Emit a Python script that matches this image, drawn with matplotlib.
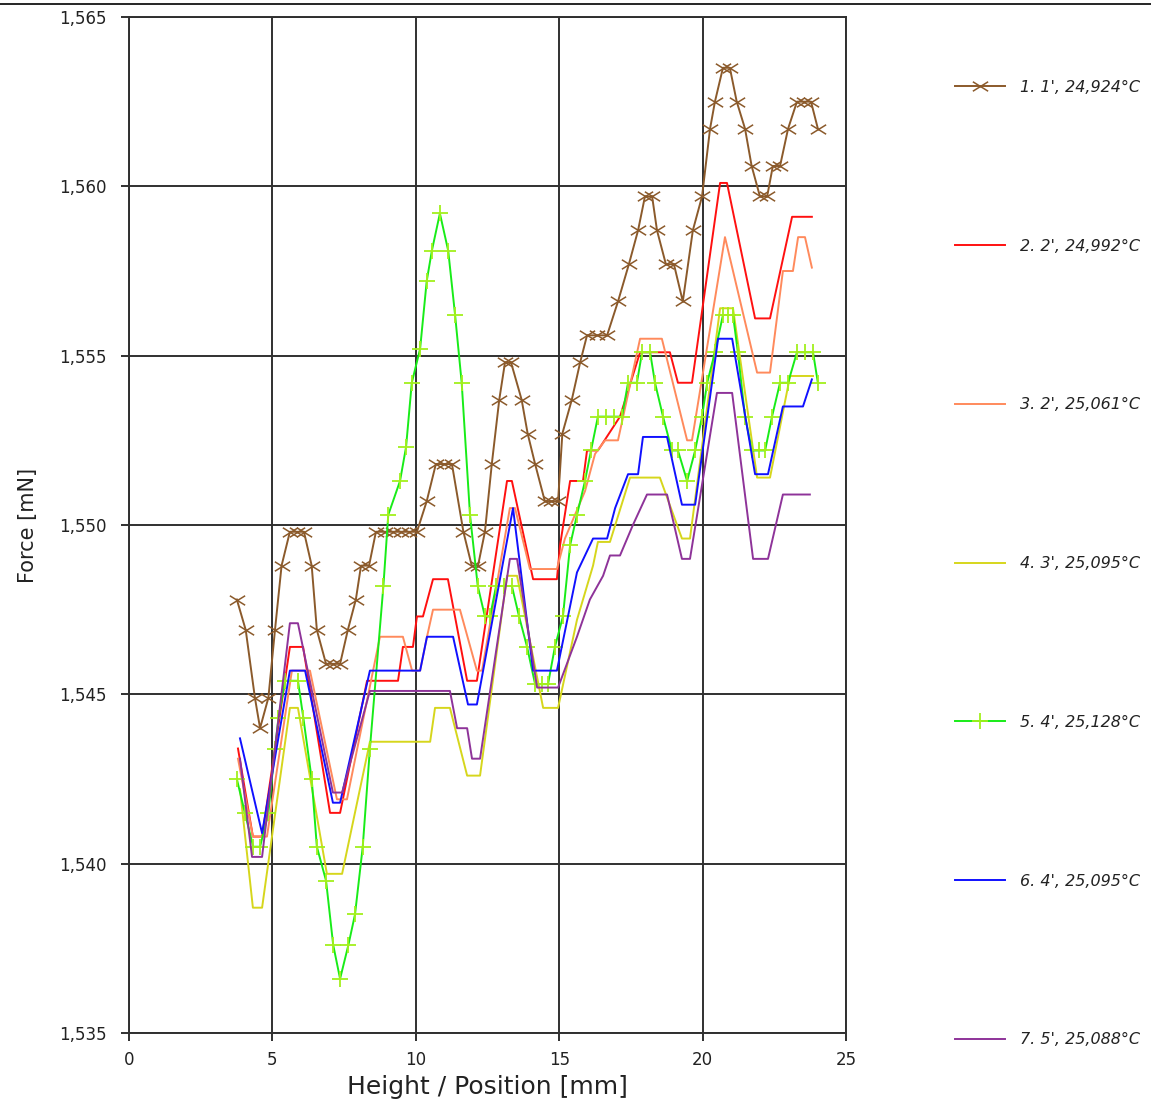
import matplotlib
matplotlib.use('Agg')
import matplotlib.pyplot as plt
from matplotlib.path import Path
from matplotlib.lines import Line2D
from matplotlib.ticker import FuncFormatter, MultipleLocator

# series 1: 1', 24,924°C (markers at every sample)
s1_pos = [3.76, 4.07, 4.39, 4.57, 4.86, 5.09, 5.32, 5.61, 5.86, 6.10, 6.37, 6.55, 6.87, 7.11,
          7.36, 7.63, 7.91, 8.09, 8.37, 8.61, 8.93, 9.21, 9.48, 9.76, 10.04, 10.38, 10.70, 10.98,
          11.26, 11.66, 11.95, 12.17, 12.41, 12.65, 12.91, 13.11, 13.32, 13.69, 13.90, 14.16, 14.50,
          14.71, 14.96, 15.11, 15.44, 15.73, 15.97, 16.32, 16.67, 17.05, 17.43, 17.75, 17.99, 18.24,
          18.41, 18.72, 19.00, 19.31, 19.66, 19.98, 20.26, 20.43, 20.71, 20.95, 21.19, 21.48, 21.71,
          22.00, 22.25, 22.45, 22.70, 22.98, 23.29, 23.53, 23.78, 24.02]
s1_force = [1.5478, 1.5469, 1.5449, 1.5440, 1.5449, 1.5469, 1.5488, 1.5498, 1.5498, 1.5498, 1.5488,
            1.5469, 1.5459, 1.5459, 1.5459, 1.5469, 1.5478, 1.5488, 1.5488, 1.5498, 1.5498, 1.5498,
            1.5498, 1.5498, 1.5498, 1.5507, 1.5518, 1.5518, 1.5518, 1.5498, 1.5488, 1.5488, 1.5498,
            1.5518, 1.5537, 1.5548, 1.5548, 1.5537, 1.5527, 1.5518, 1.5507, 1.5507, 1.5507, 1.5527,
            1.5537, 1.5548, 1.5556, 1.5556, 1.5556, 1.5566, 1.5577, 1.5587, 1.5597, 1.5597, 1.5587,
            1.5577, 1.5577, 1.5566, 1.5587, 1.5597, 1.5617, 1.5625, 1.5635, 1.5635, 1.5625, 1.5617,
            1.5606, 1.5597, 1.5597, 1.5606, 1.5606, 1.5617, 1.5625, 1.5625, 1.5625, 1.5617]

# series 2: 2', 24,992°C
s2_pos = [3.80, 4.32, 4.64, 5.61, 6.07, 7.01, 7.36, 8.30, 9.38, 9.55, 9.90, 10.04, 10.25, 10.60,
          11.12, 11.79, 12.13, 13.18, 13.35, 14.09, 14.92, 15.03, 15.38, 15.83, 15.97, 16.35, 17.12,
          17.82, 18.86, 19.14, 19.63, 20.61, 20.85, 21.83, 22.35, 23.12, 23.81]
s2_force = [1.5434, 1.5408, 1.5408, 1.5464, 1.5464, 1.5415, 1.5415, 1.5454, 1.5454, 1.5464, 1.5464,
            1.5473, 1.5473, 1.5484, 1.5484, 1.5454, 1.5454, 1.5513, 1.5513, 1.5484, 1.5484, 1.5494,
            1.5513, 1.5513, 1.5522, 1.5522, 1.5532, 1.5551, 1.5551, 1.5542, 1.5542, 1.5601, 1.5601,
            1.5561, 1.5561, 1.5591, 1.5591]

# series 3: 2', 25,061°C
s3_pos = [3.80, 4.32, 4.81, 5.68, 6.31, 7.25, 7.60, 8.75, 9.55, 9.87, 10.15, 10.39, 10.60, 11.54,
          12.13, 12.31, 13.28, 13.46, 13.98, 14.92, 15.20, 15.90, 16.25, 16.60, 17.05, 17.82, 18.58,
          19.46, 19.63, 20.78, 21.90, 22.35, 22.80, 23.15, 23.33, 23.57, 23.81]
s3_force = [1.5431, 1.5408, 1.5408, 1.5457, 1.5457, 1.5419, 1.5419, 1.5467, 1.5467, 1.5457, 1.5457,
            1.5467, 1.5475, 1.5475, 1.5457, 1.5457, 1.5505, 1.5505, 1.5487, 1.5487, 1.5496, 1.5510,
            1.5521, 1.5525, 1.5525, 1.5555, 1.5555, 1.5525, 1.5525, 1.5585, 1.5545, 1.5545, 1.5575,
            1.5575, 1.5585, 1.5585, 1.5576]

# series 4: 3', 25,095°C
s4_pos = [3.87, 4.32, 4.64, 5.61, 5.89, 6.90, 7.43, 8.40, 10.50, 10.67, 11.19, 11.79, 12.24, 13.18,
          13.53, 14.44, 14.96, 15.62, 16.18, 16.35, 16.77, 17.47, 18.51, 19.28, 19.56, 20.61, 21.06,
          21.90, 22.35, 23.05, 23.85]
s4_force = [1.5422, 1.5387, 1.5387, 1.5446, 1.5446, 1.5397, 1.5397, 1.5436, 1.5436, 1.5446, 1.5446,
            1.5426, 1.5426, 1.5485, 1.5485, 1.5446, 1.5446, 1.5472, 1.5488, 1.5495, 1.5495, 1.5514,
            1.5514, 1.5496, 1.5496, 1.5564, 1.5564, 1.5514, 1.5514, 1.5544, 1.5544]

# series 5: 4', 25,128°C (markers at every sample)
s5_pos = [3.76, 4.04, 4.33, 4.57, 4.86, 5.09, 5.21, 5.44, 5.89, 6.08, 6.37, 6.55, 6.87, 7.12, 7.36,
          7.65, 7.88, 8.15, 8.40, 8.87, 9.04, 9.45, 9.66, 9.86, 10.15, 10.38, 10.56, 10.84, 11.13,
          11.37, 11.60, 11.89, 12.16, 12.41, 12.59, 12.80, 13.08, 13.35, 13.60, 13.88, 14.16, 14.40,
          14.61, 14.85, 15.13, 15.38, 15.62, 15.90, 16.11, 16.35, 16.63, 16.91, 17.19, 17.40, 17.71,
          17.89, 18.17, 18.34, 18.62, 18.93, 19.14, 19.46, 19.74, 19.98, 20.16, 20.43, 20.71, 20.89,
          21.06, 21.23, 21.48, 21.72, 21.97, 22.18, 22.42, 22.70, 22.98, 23.29, 23.57, 23.85, 24.02]
s5_force = [1.5425, 1.5415, 1.5405, 1.5405, 1.5415, 1.5434, 1.5443, 1.5454, 1.5454, 1.5443, 1.5425,
            1.5405, 1.5395, 1.5376, 1.5366, 1.5376, 1.5385, 1.5405, 1.5434, 1.5482, 1.5503, 1.5513,
            1.5523, 1.5542, 1.5552, 1.5572, 1.5581, 1.5592, 1.5581, 1.5562, 1.5542, 1.5503, 1.5482,
            1.5473, 1.5473, 1.5482, 1.5482, 1.5482, 1.5473, 1.5464, 1.5453, 1.5453, 1.5453, 1.5464,
            1.5473, 1.5494, 1.5503, 1.5513, 1.5522, 1.5532, 1.5532, 1.5532, 1.5532, 1.5542, 1.5542,
            1.5551, 1.5551, 1.5542, 1.5532, 1.5522, 1.5522, 1.5513, 1.5522, 1.5532, 1.5542, 1.5551,
            1.5562, 1.5562, 1.5562, 1.5551, 1.5532, 1.5522, 1.5522, 1.5522, 1.5532, 1.5542, 1.5542,
            1.5551, 1.5551, 1.5551, 1.5542]

# series 6: 4', 25,095°C
s6_pos = [3.87, 4.64, 5.61, 6.14, 7.11, 7.36, 8.40, 10.15, 10.39, 11.30, 11.82, 12.13, 13.39, 14.09,
          14.92, 15.62, 16.18, 16.67, 16.95, 17.40, 17.75, 17.92, 18.76, 19.28, 19.74, 20.54, 21.03,
          21.83, 22.28, 22.80, 23.50, 23.81]
s6_force = [1.5437, 1.5409, 1.5457, 1.5457, 1.5418, 1.5418, 1.5457, 1.5457, 1.5467, 1.5467, 1.5447,
            1.5447, 1.5505, 1.5457, 1.5457, 1.5486, 1.5496, 1.5496, 1.5505, 1.5515, 1.5515, 1.5526,
            1.5526, 1.5506, 1.5506, 1.5555, 1.5555, 1.5515, 1.5515, 1.5535, 1.5535, 1.5543]

# series 7: 5', 25,088°C
s7_pos = [3.87, 4.29, 4.64, 5.61, 5.89, 7.11, 7.43, 8.40, 11.19, 11.44, 11.79, 11.96, 12.24, 13.28,
          13.53, 14.23, 14.96, 15.62, 16.07, 16.53, 16.77, 17.12, 17.57, 18.06, 18.76, 19.28, 19.56,
          20.50, 21.03, 21.76, 22.28, 22.80, 23.74]
s7_force = [1.5431, 1.5402, 1.5402, 1.5471, 1.5471, 1.5421, 1.5421, 1.5451, 1.5451, 1.5440, 1.5440,
            1.5431, 1.5431, 1.5490, 1.5490, 1.5452, 1.5452, 1.5467, 1.5478, 1.5485, 1.5491, 1.5491,
            1.5500, 1.5509, 1.5509, 1.5490, 1.5490, 1.5539, 1.5539, 1.5490, 1.5490, 1.5509, 1.5509]

labels = ["1. 1', 24,924°C", "2. 2', 24,992°C", "3. 2', 25,061°C", "4. 3', 25,095°C",
          "5. 4', 25,128°C", "6. 4', 25,095°C", "7. 5', 25,088°C"]

# x with a horizontal bar through it (the line), wider than tall
xmark = Path([(-1, -0.62), (1, 0.62), (-1, 0.62), (1, -0.62)],
             [Path.MOVETO, Path.LINETO, Path.MOVETO, Path.LINETO])

plt.rcParams['font.family'] = ['DejaVu Sans']
fig = plt.figure(figsize=(11.51, 11.03), dpi=100)
ax = fig.add_axes([129 / 1151, 1 - 1033 / 1103, 717 / 1151, 1016 / 1103])

lw = 1.4
ax.plot(s1_pos, s1_force, color='#8b5a2b', lw=lw, marker=xmark, ms=11, mew=1.1, label=labels[0])
ax.plot(s2_pos, s2_force, color='#ff1010', lw=lw, label=labels[1])
ax.plot(s3_pos, s3_force, color='#ff8a5c', lw=lw, label=labels[2])
ax.plot(s4_pos, s4_force, color='#d6d61c', lw=lw, label=labels[3])
ax.plot(s5_pos, s5_force, color='#18ec18', lw=lw, marker='+', ms=11, mew=1.3,
        mec='#a2f01c', label=labels[4])
ax.plot(s6_pos, s6_force, color='#1010ff', lw=lw, label=labels[5])
ax.plot(s7_pos, s7_force, color='#8e3399', lw=lw, label=labels[6])

ax.set_xlim(0, 25)
ax.set_ylim(1.535, 1.565)
ax.xaxis.set_major_locator(MultipleLocator(5))
ax.yaxis.set_major_locator(MultipleLocator(0.005))
ax.yaxis.set_major_formatter(FuncFormatter(lambda v, p: f"{v:.3f}".replace('.', ',')))
ax.xaxis.set_major_formatter(FuncFormatter(lambda v, p: f"{v:.0f}"))

gcol = '#303030'
ax.grid(True, color=gcol, lw=1.4)
ax.set_axisbelow(True)
for sp in ax.spines.values():
    sp.set_color(gcol)
    sp.set_linewidth(1.4)
ax.tick_params(axis='both', direction='out', length=6, width=1.4, color=gcol,
               labelsize=12, labelcolor='#222222')
ax.tick_params(axis='y', pad=10)
ax.tick_params(axis='x', pad=7)

ax.set_xlabel('Height / Position [mm]', fontsize=18, color='#222222')
ax.set_ylabel('Force [mN]', fontsize=15, color='#222222')
ax.xaxis.set_label_coords(0.5, -0.041)
ax.yaxis.set_label_coords(-0.127, 0.5)

fig.legend(loc='upper left', bbox_to_anchor=(955 / 1151, 1 - 80 / 1103), frameon=False,
           prop={'size': 11.5, 'style': 'italic'}, handlelength=3.1, handletextpad=0.94,
           labelspacing=9.0, borderpad=0, borderaxespad=0, labelcolor='#222222')

# thin frame line along the top of the picture
fig.add_artist(Line2D([0, 1], [1 - 3.5 / 1103] * 2, transform=fig.transFigure,
                      color='black', lw=1.2))

fig.savefig('out.png', dpi=100)
